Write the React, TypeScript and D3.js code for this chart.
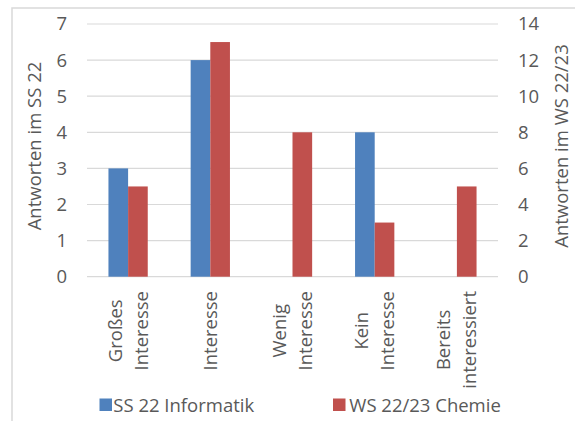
import React, { useEffect, useRef } from "react";
import * as d3 from "d3";

const categories: string[][] = [
  ["Großes", "Interesse"],
  ["Interesse"],
  ["Wenig", "Interesse"],
  ["Kein", "Interesse"],
  ["Bereits", "interessiert"],
];
const ss22: (number | null)[] = [3, 6, null, 4, null];
const ws2223: number[] = [5, 13, 8, 3, 5];
const leftTicks = [0, 1, 2, 3, 4, 5, 6, 7];
const rightTicks = [0, 2, 4, 6, 8, 10, 12, 14];
const seriesNames = ["SS 22 Informatik", "WS 22/23 Chemie"];
const colors = ["#4F81BD", "#C0504D"];
const leftTitle = "Antworten im SS 22";
const rightTitle = "Antworten im WS 22/23";

const W = 575;
const H = 421;
const FONT = "'Open Sans', sans-serif";
const TXT = "#595959";

export default function App() {
  const ref = useRef<SVGSVGElement>(null);
  useEffect(() => {
    const svg = d3.select(ref.current);
    svg.selectAll("*").remove();
    const x0 = 87, x1 = 498, yTop = 24, yBot = 276.7;
    const yL = d3.scaleLinear().domain([0, 7]).range([yBot, yTop]);
    const yR = d3.scaleLinear().domain([0, 14]).range([yBot, yTop]);
    const p = 0.522;
    const xB = d3
      .scaleBand<number>()
      .domain(categories.map((_, i) => i))
      .range([x0, x1])
      .paddingInner(p)
      .paddingOuter(p / 2);
    const bw = xB.bandwidth() / 2;

    // frame
    svg.append("rect").attr("x", 12).attr("y", 8).attr("width", 600).attr("height", 450)
      .attr("fill", "none").attr("stroke", "#D9D9D9").attr("stroke-width", 1.5);

    // gridlines
    svg.append("g").selectAll("line").data(leftTicks).join("line")
      .attr("x1", x0).attr("x2", x1)
      .attr("y1", (d) => yL(d)).attr("y2", (d) => yL(d))
      .attr("stroke", "#D9D9D9").attr("stroke-width", 1.2);

    // bars
    svg.append("g").selectAll("rect").data(ss22.map((v, i) => ({ v, i })).filter((d) => d.v != null)).join("rect")
      .attr("x", (d) => xB(d.i)!)
      .attr("width", bw)
      .attr("y", (d) => yL(d.v as number))
      .attr("height", (d) => yBot - yL(d.v as number))
      .attr("fill", colors[0]);
    svg.append("g").selectAll("rect").data(ws2223.map((v, i) => ({ v, i }))).join("rect")
      .attr("x", (d) => xB(d.i)! + bw)
      .attr("width", bw)
      .attr("y", (d) => yR(d.v))
      .attr("height", (d) => yBot - yR(d.v))
      .attr("fill", colors[1]);

    const fs = 18.5;
    // left ticks
    svg.append("g").selectAll("text").data(leftTicks).join("text")
      .attr("x", 67).attr("y", (d) => yL(d)).attr("dy", "0.35em")
      .attr("text-anchor", "end").attr("font-family", FONT).attr("font-size", fs)
      .attr("fill", TXT).text((d) => String(d));
    // right ticks
    svg.append("g").selectAll("text").data(rightTicks).join("text")
      .attr("x", 518).attr("y", (d) => yR(d)).attr("dy", "0.35em")
      .attr("text-anchor", "start").attr("font-family", FONT).attr("font-size", fs)
      .attr("fill", TXT).text((d) => String(d));

    // axis titles
    svg.append("text").attr("transform", `translate(41,146) rotate(-90)`)
      .attr("text-anchor", "middle").attr("font-family", FONT).attr("font-size", fs)
      .attr("fill", TXT).text(leftTitle);
    svg.append("text").attr("transform", `translate(568,146) rotate(-90)`)
      .attr("text-anchor", "middle").attr("font-family", FONT).attr("font-size", fs)
      .attr("fill", TXT).text(rightTitle);

    // category labels
    const LH = 26;
    const blockTop = 291;
    categories.forEach((lines, i) => {
      const cx = xB(i)! + xB.bandwidth() / 2;
      const g = svg.append("g");
      const texts = lines.map((ln) =>
        g.append("text").attr("font-family", FONT).attr("font-size", fs)
          .attr("fill", TXT).attr("text-anchor", "middle").text(ln)
      );
      const maxLen = d3.max(texts, (t) => (t.node() as SVGTextElement).getComputedTextLength()) || 0;
      const cy = blockTop + maxLen / 2;
      texts.forEach((t, j) => {
        const off = (j - (lines.length - 1) / 2) * LH;
        const bx = cx + off + 0.35 * fs;
        t.attr("transform", `translate(${bx},${cy}) rotate(-90)`);
      });
    });

    // legend
    const leg = [
      { sx: 99.5, tx: 113.3 },
      { sx: 333, tx: 349.3 },
    ];
    leg.forEach((l, i) => {
      svg.append("rect").attr("x", l.sx).attr("y", 398.5).attr("width", 12.5).attr("height", 12.5)
        .attr("fill", colors[i]);
      svg.append("text").attr("x", l.tx).attr("y", 411.5).attr("font-family", FONT)
        .attr("font-size", fs).attr("fill", TXT).text(seriesNames[i]);
    });
  }, []);
  return (
    <svg ref={ref} width={W} height={H} style={{ position: "absolute", left: 0, top: 0, background: "#fff" }} />
  );
}
